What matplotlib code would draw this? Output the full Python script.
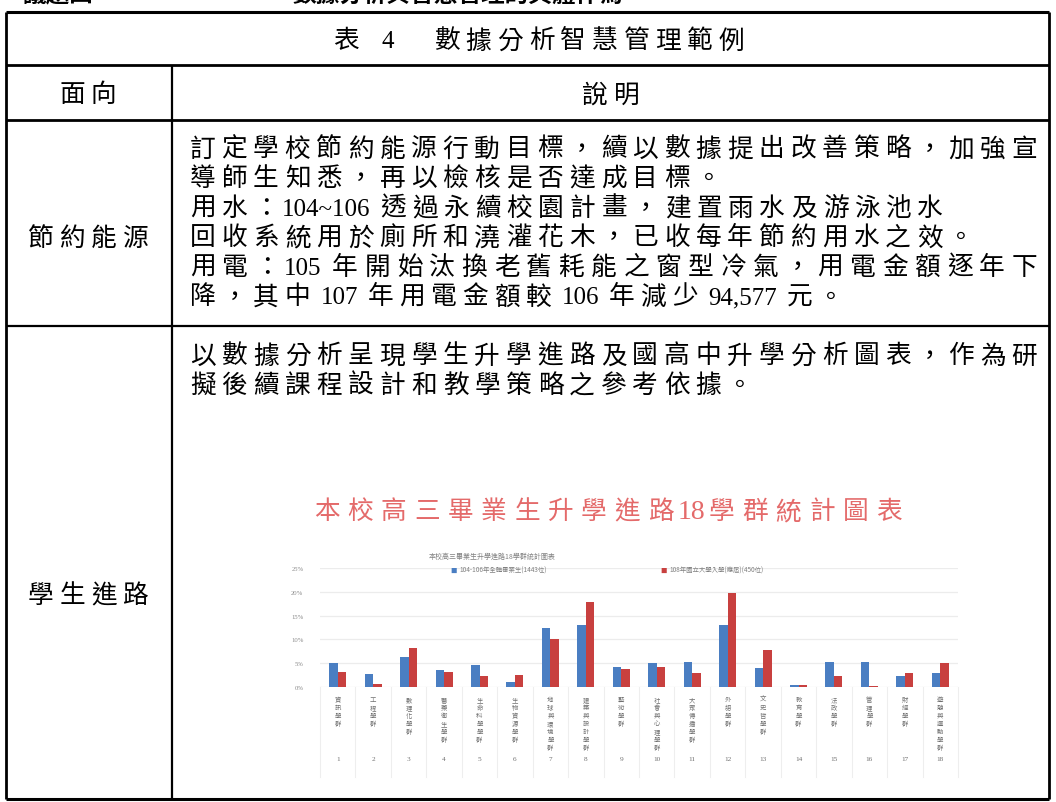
import matplotlib
matplotlib.use('Agg')
import matplotlib.pyplot as plt
import matplotlib.transforms as mtransforms
import numpy as np

W, H = 1056, 803
CJK = 'Noto Sans CJK TC'
LAT = 'Liberation Serif'

# ---------------- data ----------------
table_title_a = '表'
table_title_b = '4'
table_title_c = '數據分析智慧管理範例'
col_headers = ['面向', '說明']
row_labels = ['節約能源', '學生進路']
row1_lines = [
    '訂定學校節約能源行動目標，續以數據提出改善策略，加強宣',
    '導師生知悉，再以檢核是否達成目標。',
    '用水：104~106 透過永續校園計畫，建置雨水及游泳池水',
    '回收系統用於廁所和澆灌花木，已收每年節約用水之效。',
    '用電：105 年開始汰換老舊耗能之窗型冷氣，用電金額逐年下',
    '降，其中 107 年用電金額較 106 年減少 94,577 元。',
]
row1_justify = [False, False, False, False, True, False]
row2_lines = [
    '以數據分析呈現學生升學進路及國高中升學分析圖表，作為研',
    '擬後續課程設計和教學策略之參考依據。',
]
chart_title = '本校高三畢業生升學進路18學群統計圖表'
inner_title = '本校高三畢業生升學進路18學群統計圖表'
series_names = ['104-106年全體畢業生(1443位)', '108年國立大學入學(應屆)(450位)']
groups = ['資訊學群', '工程學群', '數理化學群', '醫藥衛生學群', '生命科學學群',
          '生物資源學群', '地球與環境學群', '建築與設計學群', '藝術學群',
          '社會與心理學群', '大眾傳播學群', '外語學群', '文史哲學群', '教育學群',
          '法政學群', '管理學群', '財經學群', '遊憩與運動學群']
group_numbers = [str(i) for i in range(1, 19)]
all_grads = [5.0, 2.8, 6.3, 3.6, 4.7, 1.0, 12.4, 13.1, 4.2, 5.0, 5.3, 13.1, 4.0, 0.5, 5.2, 5.3, 2.4, 3.0]
cohort_108 = [3.1, 0.6, 8.2, 3.1, 2.4, 2.5, 10.1, 17.8, 3.8, 4.3, 3.0, 19.8, 7.7, 0.4, 2.4, 0.3, 3.0, 5.0]
y_ticks = [0, 5, 10, 15, 20, 25]

# ---------------- figure ----------------
fig = plt.figure(figsize=(W / 100, H / 100), dpi=100)
fig.patch.set_facecolor('white')
ax = fig.add_axes([0, 0, 1, 1])
ax.set_xlim(0, W)
ax.set_ylim(H, 0)
ax.axis('off')
renderer = fig.canvas.get_renderer()


def is_latin(ch):
    return ord(ch) < 0x2E80


def split_tokens(s):
    out, buf = [], ''
    for ch in s:
        if is_latin(ch):
            buf += ch
        else:
            if buf:
                out.append(buf)
                buf = ''
            out.append(ch)
    if buf:
        out.append(buf)
    return out


def draw_line(x0, yc, s, adv=31.6, fs_cjk=18.5, fs_lat=18, right=None,
              color='black', space=7.0, weight='normal', base=8.5):
    toks = split_tokens(s)
    arts, widths = [], []
    for t in toks:
        if is_latin(t[0]):
            core = t.strip(' ')
            lead = len(t) - len(t.lstrip(' '))
            trail = len(t) - len(t.rstrip(' '))
            a = None
            w = 0.0
            if core:
                a = ax.text(0, yc + base, core, fontsize=fs_lat, family=[LAT, CJK],
                            va='baseline', ha='left', color=color, weight=weight)
                w = a.get_window_extent(renderer).width
            arts.append((a, 'lat', lead * space, w))
            widths.append(lead * space + w + trail * space)
        else:
            a = ax.text(0, yc + base, t, fontsize=fs_cjk, family=[CJK],
                        va='baseline', ha='center', color=color, weight=weight)
            arts.append((a, 'cjk', 0, adv))
            widths.append(adv)
    total = sum(widths)
    extra = 0.0
    if right is not None and len(toks) > 1:
        extra = (right - x0 - total) / (len(toks) - 1)
    x = x0
    for (a, kind, lead, w), tw in zip(arts, widths):
        if kind == 'cjk':
            a.set_x(x + adv / 2)
        elif a is not None:
            a.set_x(x + lead)
        x += tw + extra
    return x


# ---------------- clipped heading at very top ----------------
ax.text(22, 7, '議題四', fontsize=17, family=[CJK], weight='bold', va='bottom', ha='left')
ax.text(292, 7, '數據分析與智慧管理的具體作為', fontsize=17, family=[CJK], weight='bold',
        va='bottom', ha='left')

# ---------------- table grid ----------------
L, R = 6, 1049
TOP, BOT = 13, 800
h_title, h_head, h_row1 = 66, 121, 327
COLX = 172
lk = dict(color='black', solid_capstyle='butt')
ax.plot([L, R], [TOP, TOP], lw=2.2, **lk)
ax.plot([L, R], [BOT, BOT], lw=2.2, **lk)
ax.plot([L, L], [TOP, BOT], lw=2.0, **lk)
ax.plot([R, R], [TOP, BOT], lw=2.0, **lk)
ax.plot([L, R], [h_title, h_title], lw=2.0, **lk)
ax.plot([L, R], [h_head, h_head], lw=2.0, **lk)
ax.plot([L, R], [h_row1, h_row1], lw=1.6, **lk)
ax.plot([COLX, COLX], [h_title, BOT], lw=1.6, **lk)

# title row
draw_line(330, 40, table_title_a)
draw_line(382, 40, table_title_b)
draw_line(431, 40, table_title_c)

# header row
draw_line(88 - 31.6, 94, col_headers[0])
draw_line(611 - 31.6, 94, col_headers[1])

# row labels
draw_line(88 - 2 * 31.6, 237, row_labels[0])
draw_line(88 - 2 * 31.6, 595, row_labels[1])

# row 1 body
y0, dy = 148, 29.6
for i, (s, j) in enumerate(zip(row1_lines, row1_justify)):
    draw_line(187, y0 + i * dy, s, right=1040 if j else None)

# row 2 body
for i, s in enumerate(row2_lines):
    draw_line(187, 355 + i * 29.6, s)

# ---------------- embedded chart ----------------
draw_line(310, 511, chart_title, adv=33.4, fs_cjk=18.5, fs_lat=20, color='#e46a6a', base=8)

ax_left, ax_right, ax_bot, ax_top = 320, 958, 688, 569
axc = fig.add_axes([ax_left / W, 1 - ax_bot / H, (ax_right - ax_left) / W, (ax_bot - ax_top) / H])
axc.set_facecolor('none')
x = np.arange(len(groups))
bw = 0.24
blue, red = '#4a7ec2', '#c8403f'
axc.bar(x - bw / 2, all_grads, bw, color=blue, zorder=3)
axc.bar(x + bw / 2, cohort_108, bw, color=red, zorder=3)
axc.set_xlim(-0.5, len(groups) - 0.5)
axc.set_ylim(0, 25)
axc.set_yticks(y_ticks)
axc.set_yticklabels([f'{v}%' for v in y_ticks], fontsize=4.8, color='#8c8c8c', family=[LAT])
axc.tick_params(axis='y', length=0, pad=12)
axc.set_xticks([])
axc.yaxis.grid(True, color='#ececec', lw=0.9)
axc.set_axisbelow(True)
for sp in axc.spines.values():
    sp.set_visible(False)

trans = mtransforms.blended_transform_factory(axc.transData, axc.transAxes)
px = 1.0 / (ax_bot - ax_top)  # one pixel in axes fraction
for i in range(len(groups) + 1):
    axc.plot([i - 0.5, i - 0.5], [0, -90 * px], transform=trans, color='#eeeeee',
             lw=0.8, clip_on=False, zorder=1)
for i, name in enumerate(groups):
    axc.text(i, -8 * px, '\n'.join(name), transform=trans, ha='center', va='top',
             fontsize=4.6, color='#707070', family=[CJK], linespacing=1.0, clip_on=False)
    axc.text(i, -72 * px, group_numbers[i], transform=trans, ha='center', va='center',
             fontsize=5.2, color='#707070', family=[LAT], clip_on=False)

# inner title and legend (tiny)
axc.text(0.17, 1 + 12 * px, inner_title, transform=axc.transAxes, ha='left', va='center',
         fontsize=5, color='#808080', family=[CJK])
axc.text(0.205, 1 - 2 * px, '■', transform=axc.transAxes, ha='left', va='center',
         fontsize=4.6, color=blue, family=[CJK])
axc.text(0.219, 1 - 2 * px, series_names[0], transform=axc.transAxes, ha='left',
         va='center', fontsize=4.6, color='#808080', family=[CJK])
axc.text(0.534, 1 - 2 * px, '■', transform=axc.transAxes, ha='left', va='center',
         fontsize=4.6, color=red, family=[CJK])
axc.text(0.548, 1 - 2 * px, series_names[1], transform=axc.transAxes, ha='left',
         va='center', fontsize=4.6, color='#808080', family=[CJK])

fig.savefig('out.png', dpi=100, facecolor='white')
